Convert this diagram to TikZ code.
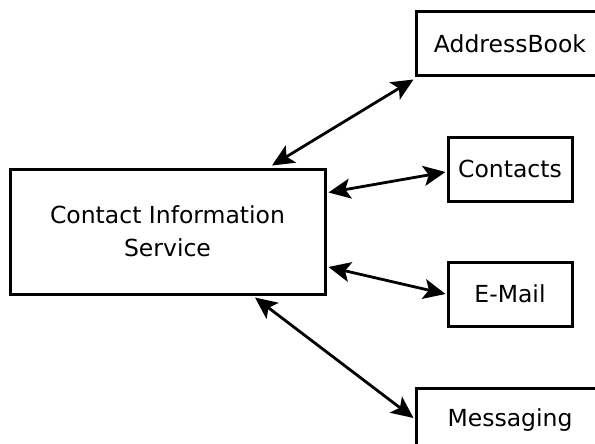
\documentclass[tikz,border=0pt]{standalone}
\usepackage{fontspec}
\setmainfont{DejaVu Sans}
\usetikzlibrary{arrows.meta,calc}
\begin{document}
\begin{tikzpicture}[x=1pt,y=-1pt,
  box/.style={draw,line width=3pt,inner sep=0pt,align=center,
    font=\fontsize{23.5}{33}\selectfont},
  link/.style={line width=2.8pt,{Stealth[length=22pt,width=20pt,inset=5pt]}-{Stealth[length=22pt,width=20pt,inset=5pt]}}]
\useasboundingbox (0,0) rectangle (595,444);
\clip (0,0) rectangle (595,444);
\node[box,minimum width=315,minimum height=125] (main) at (167.5,231.5) {Contact Information\\Service};
\node[box,minimum width=188,minimum height=64] (ab) at (510,44) {AddressBook};
\node[box,minimum width=124,minimum height=64] (ct) at (510,169) {Contacts};
\node[box,minimum width=124,minimum height=64] (em) at (510,294) {E-Mail};
\node[box,minimum width=188,minimum height=64] (ms) at (510,420) {Messaging};
\draw[link] ($(main.north)+(104.5,-2)$) -- ($(ab.south west)+(-1,2)$);
\draw[link] ($(main.east)+(2,-39)$) -- ($(ct.west)+(-1,3)$);
\draw[link] ($(main.east)+(2,35.5)$) -- ($(em.west)+(-1,0)$);
\draw[link] ($(main.south)+(87.5,2)$) -- ($(ms.west)+(-1,-2)$);
\end{tikzpicture}
\end{document}
